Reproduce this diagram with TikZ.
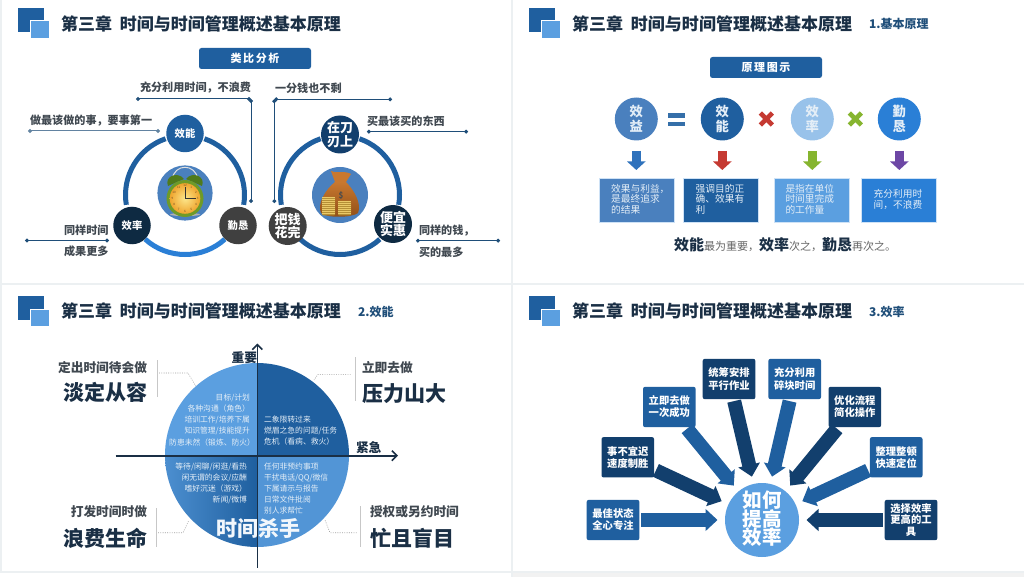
\documentclass[tikz,border=0pt]{standalone}
\usepackage{fontspec}
\setmainfont{Noto Sans CJK SC}
\usetikzlibrary{arrows.meta,calc,shapes.misc}
\definecolor{bgband}{HTML}{ECF0F2}
\definecolor{dblue}{HTML}{1F5F9F}
\definecolor{lblue}{HTML}{5B9FE0}
\definecolor{navy}{HTML}{123F6D}
\definecolor{deep}{HTML}{0E2A42}
\definecolor{slate}{HTML}{404040}
\definecolor{ink}{HTML}{1A2F45}
\definecolor{graytxt}{HTML}{404850}
\definecolor{leadc}{HTML}{1F4E79}
\definecolor{midblue}{HTML}{4A80BE}
\definecolor{paleblue}{HTML}{98C2EA}
\definecolor{brightblue}{HTML}{2A7FD6}
\definecolor{softw}{HTML}{E4EEF7}
\definecolor{aglass}{HTML}{2F72BC}
\definecolor{ared}{HTML}{C53A32}
\definecolor{agreen}{HTML}{86B52F}
\definecolor{apurple}{HTML}{6D47A5}
\definecolor{gold}{HTML}{EBC968}
\definecolor{golddk}{HTML}{B58F35}
\definecolor{bagtop}{HTML}{C9782F}
\definecolor{bagbot}{HTML}{8F4E18}
\definecolor{olive}{HTML}{6E9A28}
\definecolor{olivedk}{HTML}{4F7A1C}
\definecolor{faceA}{HTML}{FCE68A}
\definecolor{faceB}{HTML}{F7C948}
\definecolor{faceC}{HTML}{EFA52E}
\newcommand{\fs}[1]{\fontsize{#1}{#1}\selectfont}
\newcommand{\logo}[2]{%
  \fill[dblue] (#1+18.3,#2+8.3) rectangle (#1+44,#2+32);
  \fill[lblue,draw=white,line width=.4pt] (#1+30.3,#2+20.7) rectangle (#1+49.3,#2+38.3);}
\newcommand{\ttl}[3]{\node[plain,anchor=west,text=ink,font=\bfseries\fs{17}] (#3) at (#1,#2) {第三章\hspace{8pt}时间与时间管理概述基本原理};}
\newcommand{\boxlines}[2]{\makebox[75pt][l]{\hspace{#1}\begin{tabular}{@{}l@{}}#2\end{tabular}}}
\tikzset{
  x=1pt,y=-1pt,
  plain/.style={inner sep=0pt,outer sep=0pt},
  lab/.style={plain,text=graytxt,font=\bfseries\fs{11.1}},
  lead/.style={draw=leadc,line width=1pt,{Circle[length=3.8pt]}-{Circle[length=3.8pt]}},
  hubdisc/.style={circle,plain,minimum size=#1,text=white,font=\bfseries\fs{10.3},align=center},
  bigdisc/.style={circle,plain,minimum size=38pt,text=white,font=\bfseries\fs{13},align=center},
  ring/.style={line width=5pt},
  titlebtn/.style={plain,rounded corners=2.5pt,fill=dblue,text=white,font=\bfseries\fs{11}\addfontfeature{LetterSpace=14},minimum height=21pt,minimum width=112pt},
  fdisc/.style={circle,plain,minimum size=43pt,text=softw,font=\bfseries\fs{13.3},align=center},
  fbox/.style={plain,minimum width=75pt,minimum height=44.6pt,text=softw,font=\fs{9.7},draw=white!70!lblue,line width=.5pt},
  downarr/.style={line width=9.3pt,-{Triangle[width=18pt,length=8.5pt]},shorten <=10.5pt,shorten >=8pt},
  crossbar/.style={line width=4.6pt},
  qtext/.style={plain,text=softw,font=\fs{7.8}},
  qhead/.style={plain,text=graytxt,font=\bfseries\fs{12.7}},
  qbig/.style={plain,text=ink,font=\bfseries\fs{21}},
  axisline/.style={draw=ink,line width=1.6pt,-{Straight Barb[length=5pt,width=10pt,line width=1.6pt]}},
  thing/.style={draw=black!22,line width=.5pt},
  dots/.style={draw=black!38,line width=.6pt,dash pattern=on .9pt off 1.4pt},
  wbox/.style={plain,rounded corners=2pt,minimum width=52.6pt,minimum height=40.3pt,text=white,font=\bfseries\fs{10.3},align=center},
  flow/.style={line width=14pt,-{Triangle[width=21.5pt,length=12pt]},shorten <=2pt,shorten >=7.5pt},
  clocknum/.style={plain,text=brown!60!black,font=\fs{3}},
}
\begin{document}
\begin{tikzpicture}
\useasboundingbox (0,0) rectangle (1024,577);
\fill[bgband] (0,0) rectangle (1024,577);
\fill[white] (2,0) rectangle (511,283);
\fill[white] (513,0) rectangle (1024,283);
\fill[white] (2,285) rectangle (511,571);
\fill[white] (513,285) rectangle (1024,571);
\fill[white] (0,573) rectangle (511,577);
\fill[black!5] (513,573) rectangle (1024,577);
% ---- headers
\logo{0}{0} \logo{511}{0} \logo{0}{288} \logo{511}{288}
\ttl{61}{23.5}{t1}
\ttl{572}{23.5}{t2}
\ttl{61}{311}{t3}
\ttl{572}{311}{t4}
\node[plain,anchor=west,text=leadc,font=\bfseries\fs{12}] (s2) at (869,24) {1.基本原理};
\node[plain,anchor=west,text=leadc,font=\bfseries\fs{12}] (s3) at (358,312) {2.效能};
\node[plain,anchor=west,text=leadc,font=\bfseries\fs{12}] (s4) at (869,312) {3.效率};
% ---- panel 1 : time ring
\node[titlebtn] (b1) at (255,58.5) {类比分析};
\draw[ring,draw=dblue] ([shift={(109:59.5pt)}]185,195) arc[start angle=109,end angle=189.5,radius=59.5pt];
\draw[ring,draw=dblue] ([shift={(71:59.5pt)}]185,195) arc[start angle=71,end angle=-9.5,radius=59.5pt];
\draw[ring,draw=brightblue] ([shift={(228:59.5pt)}]185,195) arc[start angle=228,end angle=312,radius=59.5pt];
\node[hubdisc=37.5pt,fill=dblue] (eff) at (185,133.5) {效能};
\node[hubdisc=37.5pt,fill=deep] (rate) at (132,225.5) {效率};
\node[hubdisc=37.5pt,fill=slate] (dili) at (238,225.5) {勤恳};
\fill[midblue] (185,193) circle[radius=27.6pt];
% clock
\fill[black!30] (185,214.5) ellipse[x radius=15pt,y radius=1.6pt];
\draw[black!12,line width=1pt] (172,180) .. controls (174,163) and (196,163) .. (198,180);
\fill[olivedk] (168,186) .. controls (164,176) and (178,171) .. (184,179) -- cycle;
\fill[olivedk] (202,186) .. controls (206,176) and (192,171) .. (186,179) -- cycle;
\fill[black!25] (177,212) rectangle (179,216); \fill[black!25] (191,212) rectangle (193,216);
\fill[olive] (185,198.5) circle[radius=18.5pt];
\shade[inner color=faceA,middle color=faceB,outer color=faceC] (185,198.5) circle[radius=15.3pt];
\foreach \a/\n in {60/1,30/2,0/3,-30/4,-60/5,-90/6,-120/7,-150/8,180/9,150/10,120/11,90/12}
  \node[clocknum] (num\n) at ([shift={(\a:12.6pt)}]185,198.5) {\n};
\draw[black!80,line width=.8pt] (185,187.5) -- (185,198.5) -- (195.5,198.5);
% labels & leaders
\node[lab,anchor=west] (la1) at (140,88) {充分利用时间，不浪费};
\coordinate (a1) at (136,99); \coordinate (a2) at (251,99); \coordinate (a3) at (251,203);
\draw[lead] (a1) -- (a2);
\draw[lead] (a2) -- (a3);
\node[lab,anchor=west] (la2) at (30,121) {做最该做的事，要事第一};
\coordinate (a4) at (28,131); \coordinate (a5) at (160,131);
\draw[lead,draw=leadc!70] (a4) -- (a5);
\node[lab,anchor=east] (la3) at (108.5,230) {同样时间};
\node[lab,anchor=east] (la4) at (108.5,251.5) {成果更多};
\coordinate (a6) at (25,240.5); \coordinate (a7) at (109,240.5);
\draw[lead] (a6) -- (a7);
% ---- panel 1 : money ring
\draw[ring,draw=dblue] ([shift={(109:59.5pt)}]340,195) arc[start angle=109,end angle=189.5,radius=59.5pt];
\draw[ring,draw=dblue] ([shift={(71:59.5pt)}]340,195) arc[start angle=71,end angle=-9.5,radius=59.5pt];
\draw[ring,draw=dblue] ([shift={(228:59.5pt)}]340,195) arc[start angle=228,end angle=312,radius=59.5pt];
\node[bigdisc,fill=navy] (edge) at (340,134.5) {在刀\\[.8pt]刃上};
\node[bigdisc,fill=slate] (spend) at (287.7,226) {把钱\\[.8pt]花完};
\node[bigdisc,fill=deep] (cheap) at (393,224) {便宜\\[.8pt]实惠};
\fill[midblue] (340,195) circle[radius=28pt];
% money bag
\fill[bagtop] (331,171) .. controls (336,174) and (344,170) .. (351,174) -- (346,182) -- (335,182) -- cycle;
\shade[top color=bagtop,bottom color=bagbot] (335,182) .. controls (325,190) and (317,204) .. (321,213) .. controls (325,218) and (352,218) .. (358,213) .. controls (362,204) and (354,190) .. (346,182) -- cycle;
\fill[golddk,rounded corners=1pt] (322,197) rectangle (335,215.5);
\fill[golddk,rounded corners=1pt] (338,201) rectangle (351,215.5);
\foreach \y in {197,199,...,214} {\fill[gold] (322,\y) rectangle (335,\y+1.3);}
\foreach \y in {201,203,...,214} {\fill[gold] (338,\y) rectangle (351,\y+1.3);}
\node[plain,text=black!70,font=\bfseries\fs{8}] (dollar) at (341,196) {\$};
% labels & leaders
\node[lab,anchor=west] (lb1) at (275,88) {一分钱也不剩};
\coordinate (c1) at (274.3,99.3); \coordinate (c2) at (392,99.3); \coordinate (c3) at (274.3,203);
\draw[lead] (c1) -- (c2);
\draw[lead] (c1) -- (c3);
\node[lab,anchor=west] (lb2) at (367,121) {买最该买的东西};
\coordinate (c4) at (367,131.7); \coordinate (c5) at (468,131.7);
\draw[lead] (c4) -- (c5);
\node[lab,anchor=west] (lb3) at (419,231) {同样的钱，};
\node[lab,anchor=west] (lb4) at (419,252) {买的最多};
\coordinate (c6) at (416,240.7); \coordinate (c7) at (500,240.7);
\draw[lead] (c6) -- (c7);
% ---- panel 2
\node[titlebtn] (b2) at (766,67.5) {原理图示};
\node[fdisc,fill=midblue] (f1) at (636.3,119) {效\\[2pt]益};
\node[fdisc,fill=dblue] (f2) at (722.3,119) {效\\[2pt]能};
\node[fdisc,fill=paleblue] (f3) at (812.3,119) {效\\[2pt]率};
\node[fdisc,fill=brightblue] (f4) at (899.3,119) {勤\\[2pt]恳};
\fill[dblue!90!white] (668.3,113.3) rectangle (685,117.7);
\fill[dblue!90!white] (668.3,121.7) rectangle (685,126);
\coordinate (xr) at (766.3,119); \coordinate (xg) at (855.3,119);
\draw[crossbar,draw=ared] ($(xr)+(-6,-6)$) -- ($(xr)+(6,6)$);
\draw[crossbar,draw=ared] ($(xr)+(-6,6)$) -- ($(xr)+(6,-6)$);
\draw[crossbar,draw=agreen] ($(xg)+(-6,-6)$) -- ($(xg)+(6,6)$);
\draw[crossbar,draw=agreen] ($(xg)+(-6,6)$) -- ($(xg)+(6,-6)$);
\node[fbox,fill=midblue] (g1) at (636.7,200.3) {\boxlines{12pt}{效果与利益，\\[-.6pt]是最终追求\\[-.6pt]的结果}};
\node[fbox,fill=dblue] (g2) at (721.2,200.3) {\boxlines{12pt}{强调目的正\\[-.6pt]确、效果有\\[-.6pt]利}};
\node[fbox,fill=lblue] (g3) at (811.3,200.3) {\boxlines{11.7pt}{是指在单位\\[-.6pt]时间里完成\\[-.6pt]的工作量}};
\node[fbox,fill=brightblue] (g4) at (898.5,200.3) {\boxlines{12.7pt}{充分利用时\\[-.6pt]间，不浪费}};
\draw[downarr,draw=aglass] (f1) -- (g1.north -| f1);
\draw[downarr,draw=ared] (f2) -- (g2.north -| f2);
\draw[downarr,draw=agreen] (f3) -- (g3.north -| f3);
\draw[downarr,draw=apurple] (f4) -- (g4.north -| f4);
\node[plain,anchor=base west,text=black!60] (sum) at (674,251) {{\bfseries\color{ink}\fs{15}效能}{\fs{11}最为重要，}{\bfseries\color{ink}\fs{15}效率}{\fs{11}次之，}{\bfseries\color{ink}\fs{15}勤恳}{\fs{11}再次之。}};
% ---- panel 3
\fill[lblue] (257,455) -- (165,455) arc[start angle=180,end angle=90,radius=92pt] -- cycle;
\fill[dblue] (257,455) -- (257,363) arc[start angle=90,end angle=0,radius=92pt] -- cycle;
\shade[left color=lblue!75!dblue,right color=dblue] (257,455) -- (165,455) arc[start angle=180,end angle=270,radius=92pt] -- cycle;
\fill[lblue!85!dblue] (257,455) -- (257,547) arc[start angle=270,end angle=360,radius=92pt] -- cycle;
\node[qtext,anchor=east] (q11) at (250,398) {目标/计划};
\node[qtext,anchor=east] (q12) at (250,409) {各种沟通（角色）};
\node[qtext,anchor=east] (q13) at (250,420) {培训工作/培养下属};
\node[qtext,anchor=east] (q14) at (250,431) {知识管理/技能提升};
\node[qtext,anchor=east] (q15) at (255,443) {防患未然（锻炼、防火）};
\node[qtext,anchor=west] (q21) at (264,420) {二象限转过来};
\node[qtext,anchor=west] (q22) at (264,431) {燃眉之急的问题/任务};
\node[qtext,anchor=west] (q23) at (264,442) {危机（看病、救火）};
\node[qtext,anchor=east] (q31) at (247,467) {等待/闲聊/闲逛/看热};
\node[qtext,anchor=east] (q32) at (247,478) {闲无谓的会议/应酬};
\node[qtext,anchor=east] (q33) at (247,489) {嗜好沉迷（游戏）};
\node[qtext,anchor=east] (q34) at (247,500) {新闻/微博};
\node[qtext,anchor=west] (q41) at (264,467) {任何非预约事项};
\node[qtext,anchor=west] (q42) at (264,478) {干扰电话/QQ/微信};
\node[qtext,anchor=west] (q43) at (264,489) {下属请示与报告};
\node[qtext,anchor=west] (q44) at (264,500) {日常文件批阅};
\node[qtext,anchor=west] (q45) at (264,511) {别人求帮忙};
\node[plain,text=white!92!lblue,font=\bfseries\fs{21}] (killer) at (258,528) {时间杀手};
\coordinate (ax1) at (257.3,567.5); \coordinate (ax2) at (257.3,343.5);
\coordinate (ax3) at (115.7,455.7); \coordinate (ax4) at (398,455.7);
\draw[axisline] (ax1) -- (ax2);
\draw[axisline] (ax3) -- (ax4);
\node[plain,text=ink,font=\bfseries\fs{12.7},anchor=east] (imp) at (257,358) {重要};
\node[plain,text=ink,font=\bfseries\fs{12.7},anchor=west] (urg) at (356,448) {紧急};
\node[qhead,anchor=east] (h1) at (147,368) {定出时间待会做};
\node[qbig,anchor=east] (h2) at (147.5,392) {淡定从容};
\node[qhead,anchor=west] (h3) at (362,368) {立即去做};
\node[qbig,anchor=west] (h4) at (362,394) {压力山大};
\node[qhead,anchor=east] (h5) at (147,512) {打发时间时做};
\node[qbig,anchor=east] (h6) at (147,538) {浪费生命};
\node[qhead,anchor=west] (h7) at (370,512) {授权或另约时间};
\node[qbig,anchor=west] (h8) at (370,538) {忙且盲目};
\coordinate (v1) at (157.5,360); \coordinate (v2) at (157.5,397);
\coordinate (v3) at (156.7,508); \coordinate (v4) at (156.7,547);
\coordinate (v5) at (355.3,357); \coordinate (v6) at (355.3,401);
\coordinate (v7) at (360.7,506); \coordinate (v8) at (360.7,547);
\draw[thing] (v1) -- (v2);
\draw[thing] (v3) -- (v4);
\draw[thing] (v5) -- (v6);
\draw[thing] (v7) -- (v8);
\coordinate (d1) at (159,373); \coordinate (d2) at (188,373); \coordinate (d3) at (195.7,386);
\coordinate (d4) at (158,532.7); \coordinate (d5) at (183,532.7); \coordinate (d6) at (189,520);
\coordinate (d7) at (350.7,374.3); \coordinate (d8) at (318,374.3); \coordinate (d9) at (314,380);
\coordinate (d10) at (356.7,532.7); \coordinate (d11) at (330,532.7); \coordinate (d12) at (325,520);
\draw[dots] (d1) -- (d2) -- (d3);
\draw[dots] (d4) -- (d5) -- (d6);
\draw[dots] (d7) -- (d8) -- (d9);
\draw[dots] (d10) -- (d11) -- (d12);
% ---- panel 4
\node[circle,plain,minimum size=74pt,fill=lblue] (hub) at (762,520) {};
\node[plain,text=white,font=\bfseries\fs{19.5},align=center] (hubt) at (762,519) {如何\\[-1pt]提高\\[-1pt]效率};
\node[wbox,fill=dblue] (w1) at (613,520) {最佳状态\\[1.8pt]全心专注};
\node[wbox,fill=navy] (w2) at (627.8,457.3) {事不宜迟\\[1.8pt]速度制胜};
\node[wbox,fill=dblue] (w3) at (669.3,407) {立即去做\\[1.8pt]一次成功};
\node[wbox,fill=navy] (w4) at (729,379) {统筹安排\\[1.8pt]平行作业};
\node[wbox,fill=dblue] (w5) at (794.7,379) {充分利用\\[1.8pt]碎块时间};
\node[wbox,fill=navy] (w6) at (854.8,407) {优化流程\\[1.8pt]简化操作};
\node[wbox,fill=dblue] (w7) at (896.2,457.3) {整理整顿\\[1.8pt]快速定位};
\node[wbox,fill=navy] (w8) at (911,520) {选择效率\\[.8pt]更高的工\\[.8pt]具};
\draw[flow,draw=dblue] (w1) -- (hub);
\draw[flow,draw=navy] (w2) -- (hub);
\draw[flow,draw=dblue] (w3) -- (hub);
\draw[flow,draw=navy] (w4) -- (hub);
\draw[flow,draw=dblue] (w5) -- (hub);
\draw[flow,draw=navy] (w6) -- (hub);
\draw[flow,draw=dblue] (w7) -- (hub);
\draw[flow,draw=navy] (w8) -- (hub);
\end{tikzpicture}
\end{document}
